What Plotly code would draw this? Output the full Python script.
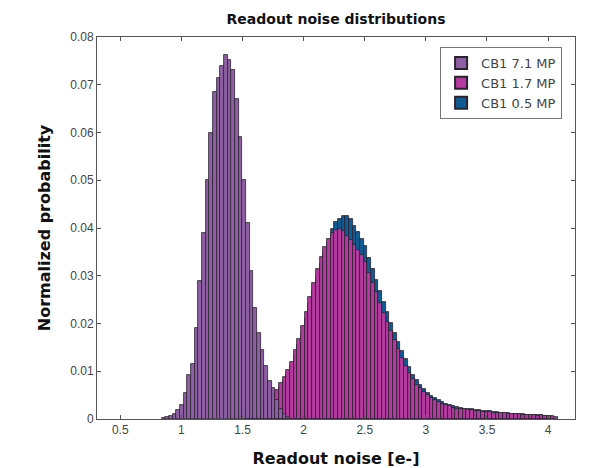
import numpy as np
import plotly.graph_objects as go

BIN_WIDTH = 0.03

# CB1 7.1 MP (first bin centre 0.855)
p71_start = 0.855
p71 = [0.0002, 0.0004, 0.0007, 0.0010, 0.0018, 0.0030, 0.0055, 0.0092, 0.0115,
       0.0190, 0.0290, 0.0390, 0.0500, 0.0600, 0.0685, 0.0714, 0.0740, 0.0762,
       0.0752, 0.0730, 0.0670, 0.0590, 0.0500, 0.0410, 0.0310, 0.0232, 0.0180,
       0.0145, 0.0110, 0.0080, 0.0065, 0.0040, 0.0020, 0.0010, 0.0005]

# CB1 1.7 MP (first bin centre 1.545)
p17_start = 1.545
p17 = [0.0002, 0.0004, 0.0007, 0.0015, 0.0026, 0.0033, 0.0040, 0.0048, 0.0060,
       0.0075, 0.0088, 0.0102, 0.0120, 0.0145, 0.0168, 0.0195, 0.0225, 0.0255,
       0.0285, 0.0314, 0.0340, 0.0360, 0.0378, 0.0390, 0.0396, 0.0398, 0.0393,
       0.0384, 0.0375, 0.0365, 0.0354, 0.0343, 0.0329, 0.0305, 0.0285, 0.0265,
       0.0242, 0.0223, 0.0204, 0.0184, 0.0165, 0.0147, 0.0127, 0.0112, 0.0097,
       0.0083, 0.0072, 0.0064, 0.0056, 0.0050, 0.0044, 0.0039, 0.0035, 0.0032,
       0.0029, 0.0027, 0.0024, 0.0022, 0.0021, 0.0020, 0.0019, 0.0018, 0.0017,
       0.0016, 0.0015, 0.0015, 0.0014, 0.0013, 0.0013, 0.0012, 0.0012, 0.0011,
       0.0011, 0.0010, 0.0010, 0.0009, 0.0009, 0.0008, 0.0008, 0.0007, 0.0008,
       0.0007, 0.0006, 0.0006, 0.0005]

# CB1 0.5 MP (first bin centre 1.545)
p05_start = 1.545
p05 = [0.0002, 0.0004, 0.0006, 0.0012, 0.0022, 0.0029, 0.0036, 0.0044, 0.0055,
       0.0068, 0.0080, 0.0094, 0.0110, 0.0133, 0.0155, 0.0180, 0.0210, 0.0240,
       0.0270, 0.0298, 0.0325, 0.0348, 0.0368, 0.0398, 0.0412, 0.0418, 0.0425,
       0.0425, 0.0418, 0.0405, 0.0392, 0.0378, 0.0362, 0.0338, 0.0315, 0.0292,
       0.0268, 0.0246, 0.0224, 0.0202, 0.0181, 0.0162, 0.0142, 0.0125, 0.0108,
       0.0093, 0.0081, 0.0071, 0.0062, 0.0055, 0.0048, 0.0043, 0.0039, 0.0035,
       0.0032, 0.0030, 0.0027, 0.0025, 0.0023, 0.0022, 0.0021, 0.0020, 0.0019,
       0.0019, 0.0017, 0.0016, 0.0016, 0.0014, 0.0014, 0.0013, 0.0013, 0.0012,
       0.0011, 0.0011, 0.0010, 0.0010, 0.0009, 0.0009, 0.0008, 0.0009, 0.0008,
       0.0007, 0.0006]

series_names = ["CB1 0.5 MP", "CB1 1.7 MP", "CB1 7.1 MP"]
colors = ["#0f5b93", "#b43a9e", "#8e5fa2"]

x_ticks = [0.5, 1, 1.5, 2, 2.5, 3, 3.5, 4]
y_ticks = [0, 0.01, 0.02, 0.03, 0.04, 0.05, 0.06, 0.07, 0.08]

fig = go.Figure()
for name, start, vals, col in zip(series_names, [p05_start, p17_start, p71_start],
                                   [p05, p17, p71], colors):
    xs = start + BIN_WIDTH * np.arange(len(vals))
    fig.add_trace(go.Bar(
        x=xs, y=vals, width=BIN_WIDTH, name=name,
        marker=dict(color=col, line=dict(color="#2b2230", width=0.8)),
    ))

axis_common = dict(
    showline=True, linecolor="#555555", linewidth=1, mirror="ticks",
    ticks="inside", ticklen=4, tickcolor="#555555",
    showgrid=False, zeroline=False,
    tickfont=dict(family="Liberation Sans, Arial", size=12, color="#444444"),
)
title_font = dict(family="DejaVu Sans", size=16, color="#111111")

fig.update_layout(
    width=592, height=468,
    margin=dict(l=89, r=25, t=29, b=57),
    paper_bgcolor="white", plot_bgcolor="white",
    barmode="overlay", bargap=0,
    title=dict(text="<b>Readout noise distributions</b>", x=0.5, xanchor="center",
               xref="paper", y=0.976, yanchor="middle",
               font=dict(family="DejaVu Sans", size=14, color="#111111")),
    xaxis=dict(range=[0.31, 4.22], tickvals=x_ticks,
               ticktext=[f"{v:g}" for v in x_ticks],
               title=dict(text="<b>Readout noise [e-]</b>", standoff=16, font=title_font),
               **axis_common),
    yaxis=dict(range=[0, 0.08], tickvals=y_ticks,
               ticktext=[f"{v:g}" for v in y_ticks],
               title=dict(text="<b>Normalized probability</b>", standoff=15, font=title_font),
               **axis_common),
    legend=dict(x=0.973, y=0.974, xanchor="right", yanchor="top",
                traceorder="reversed", bgcolor="white",
                bordercolor="#777777", borderwidth=1,
                font=dict(family="DejaVu Sans", size=13, color="#444444"),
                itemsizing="constant", tracegroupgap=0),
    showlegend=True,
)

fig.write_html("out.html")
